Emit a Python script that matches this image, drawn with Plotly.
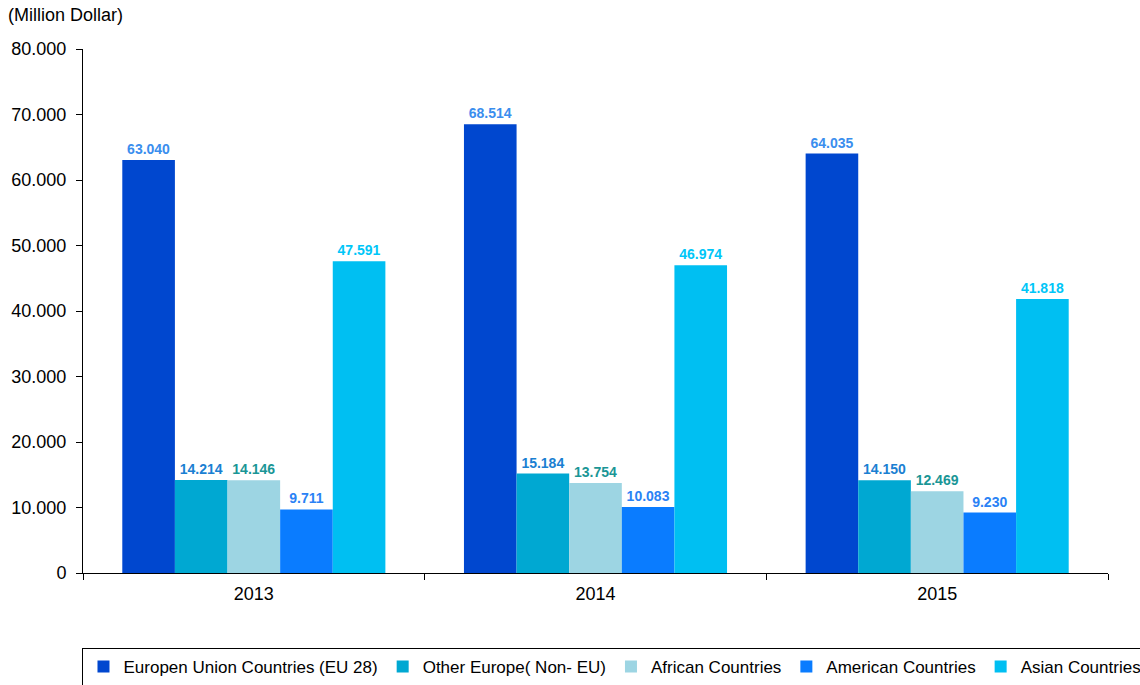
import plotly.graph_objects as go

years = ["2013", "2014", "2015"]
series_names = [
    "Europen Union Countries (EU 28)",
    "Other Europe( Non- EU)",
    "African Countries",
    "American Countries",
    "Asian Countries",
]
eu28 = [63040, 68514, 64035]
other_europe = [14214, 15184, 14150]
african = [14146, 13754, 12469]
american = [9711, 10083, 9230]
asian = [47591, 46974, 41818]

values = [eu28, other_europe, african, american, asian]
bar_colors = ["#0047CF", "#00A8D2", "#9DD5E3", "#0A7CFF", "#00BFF2"]
label_colors = ["#3A8EEE", "#1A80D2", "#1A9696", "#2A82F5", "#00C6F8"]

font_family = "Liberation Sans, Arial, sans-serif"

fig = go.Figure()
for name, vals, bc, lc in zip(series_names, values, bar_colors, label_colors):
    fig.add_trace(go.Bar(
        x=years, y=vals, name=name,
        marker=dict(color=bc, line=dict(width=0)),
        texttemplate="%{y:,}",
        textposition="outside",
        cliponaxis=False,
        textfont=dict(family=font_family, size=14, color=lc, weight="bold"),
    ))

fig.update_layout(
    width=1140, height=685,
    margin=dict(l=83, r=32, t=49, b=112, autoexpand=False),
    plot_bgcolor="white", paper_bgcolor="white",
    separators=",.",
    barmode="group",
    bargap=0.23, bargroupgap=0,
    font=dict(family=font_family, size=18, color="#000000"),
    showlegend=True,
    legend=dict(
        orientation="h",
        x=-0.0005, xanchor="left",
        y=-75/524, yanchor="top",
        bordercolor="#000000", borderwidth=1,
        font=dict(family=font_family, size=17, color="#000000"),
        itemwidth=30,
        traceorder="normal",
    ),
    xaxis=dict(
        type="category",
        showline=True, linecolor="#000000", linewidth=1,
        ticks="outside", tickson="boundaries", ticklen=6, tickcolor="#000000",
        showgrid=False,
        tickfont=dict(size=18),
        ticklabelstandoff=4,
    ),
    yaxis=dict(
        range=[0, 80000], dtick=10000,
        tickformat=",d",
        showline=True, linecolor="#000000", linewidth=1,
        ticks="outside", ticklen=6, tickcolor="#000000",
        showgrid=False, zeroline=False,
        tickfont=dict(size=18),
        ticklabelstandoff=6,
    ),
    annotations=[dict(
        text="(Million Dollar)", xref="paper", yref="paper",
        x=-77/1025, y=1 + 34/524, xanchor="left", yanchor="middle",
        showarrow=False, font=dict(size=18, family=font_family),
    )],
)

fig.write_html(
    "out.html",
    config={"displayModeBar": False},
    post_script="document.body.style.margin='0';document.body.style.overflow='hidden';",
)
